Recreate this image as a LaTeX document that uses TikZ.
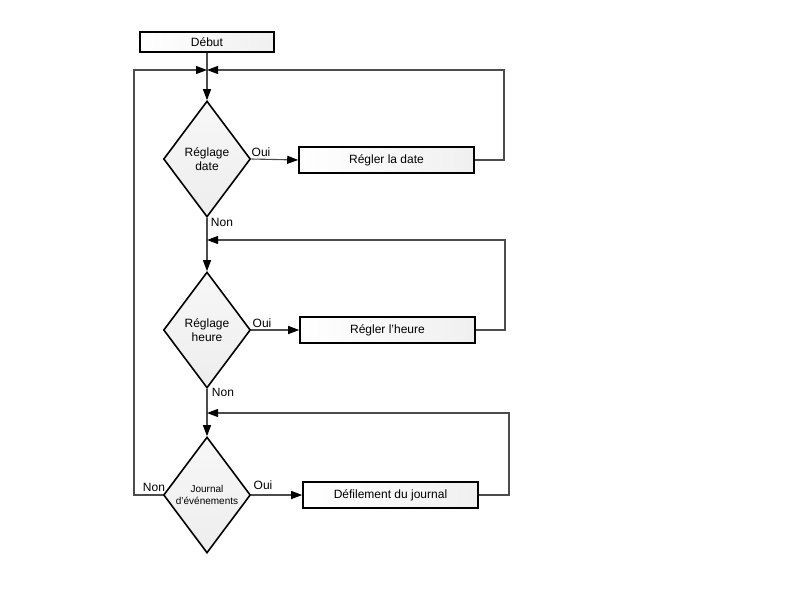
\documentclass[tikz,border=0pt]{standalone}
\usepackage{fontspec}
\setmainfont{Liberation Sans}
\usetikzlibrary{shapes.geometric,arrows.meta}
\begin{document}
\begin{tikzpicture}[x=1pt,y=-1pt,
  every node/.style={font=\fontsize{12}{14}\selectfont},
  procbox/.style={draw=black,line width=1.6pt,rectangle,minimum width=175pt,minimum height=26pt,inner sep=0pt,left color=white,right color=gray!12},
  startbox/.style={procbox,minimum width=134pt,minimum height=20pt},
  dia/.style={draw=black,line width=1.6pt,diamond,aspect=1,minimum width=87pt,minimum height=116pt,inner sep=0pt,top color=gray!6,bottom color=gray!14,align=center},
  conn/.style={draw=black!70,line width=1.1pt},
  arr/.style={conn,-{Triangle[length=11pt,width=8pt,color=black]}},
  lab/.style={inner sep=0pt,font=\fontsize{12}{14}\selectfont}
]
\useasboundingbox (0,0) rectangle (800,600);
\node[startbox] (debut) at (207,42) {Début};
\node[dia] (d1) at (207,159) {Réglage\\date};
\node[dia] (d2) at (207,330) {Réglage\\heure};
\node[dia,font=\fontsize{10}{12.5}\selectfont] (d3) at (207,495) {Journal\\d'événements};
\node[procbox] (b1) at (386.5,160) {Régler la date};
\node[procbox] (b2) at (387.5,330) {Régler l'heure};
\node[procbox] (b3) at (390.5,495) {Défilement du journal};
\coordinate (j1) at (207,70);
\coordinate (j2) at (207,240);
\coordinate (j3) at (207,413);
\coordinate (r1) at (504,70);
\coordinate (r2) at (505,240);
\coordinate (r3) at (509,413);
\coordinate (l1) at (134,495);
\coordinate (l2) at (134,70);
\draw[arr] (debut.south) -- (d1.north);
\draw[arr] (d1.south) -- (d2.north);
\draw[arr] (d2.south) -- (d3.north);
\draw[arr] (d1.east) -- (b1.west);
\draw[arr] (d2.east) -- (b2.west);
\draw[arr] (d3.east) -- (b3.west);
\draw[arr] (b1.east) -| (r1) -- (j1);
\draw[arr] (b2.east) -| (r2) -- (j2);
\draw[arr] (b3.east) -| (r3) -- (j3);
\draw[arr] (d3.west) -- (l1) -- (l2) -- (j1);
\node[lab] (o1) at (261,152) {Oui};
\node[lab] (o2) at (262,323) {Oui};
\node[lab] (o3) at (263,485) {Oui};
\node[lab] (n1) at (222,222) {Non};
\node[lab] (n2) at (223,392) {Non};
\node[lab] (n3) at (154,487) {Non};
\end{tikzpicture}
\end{document}
